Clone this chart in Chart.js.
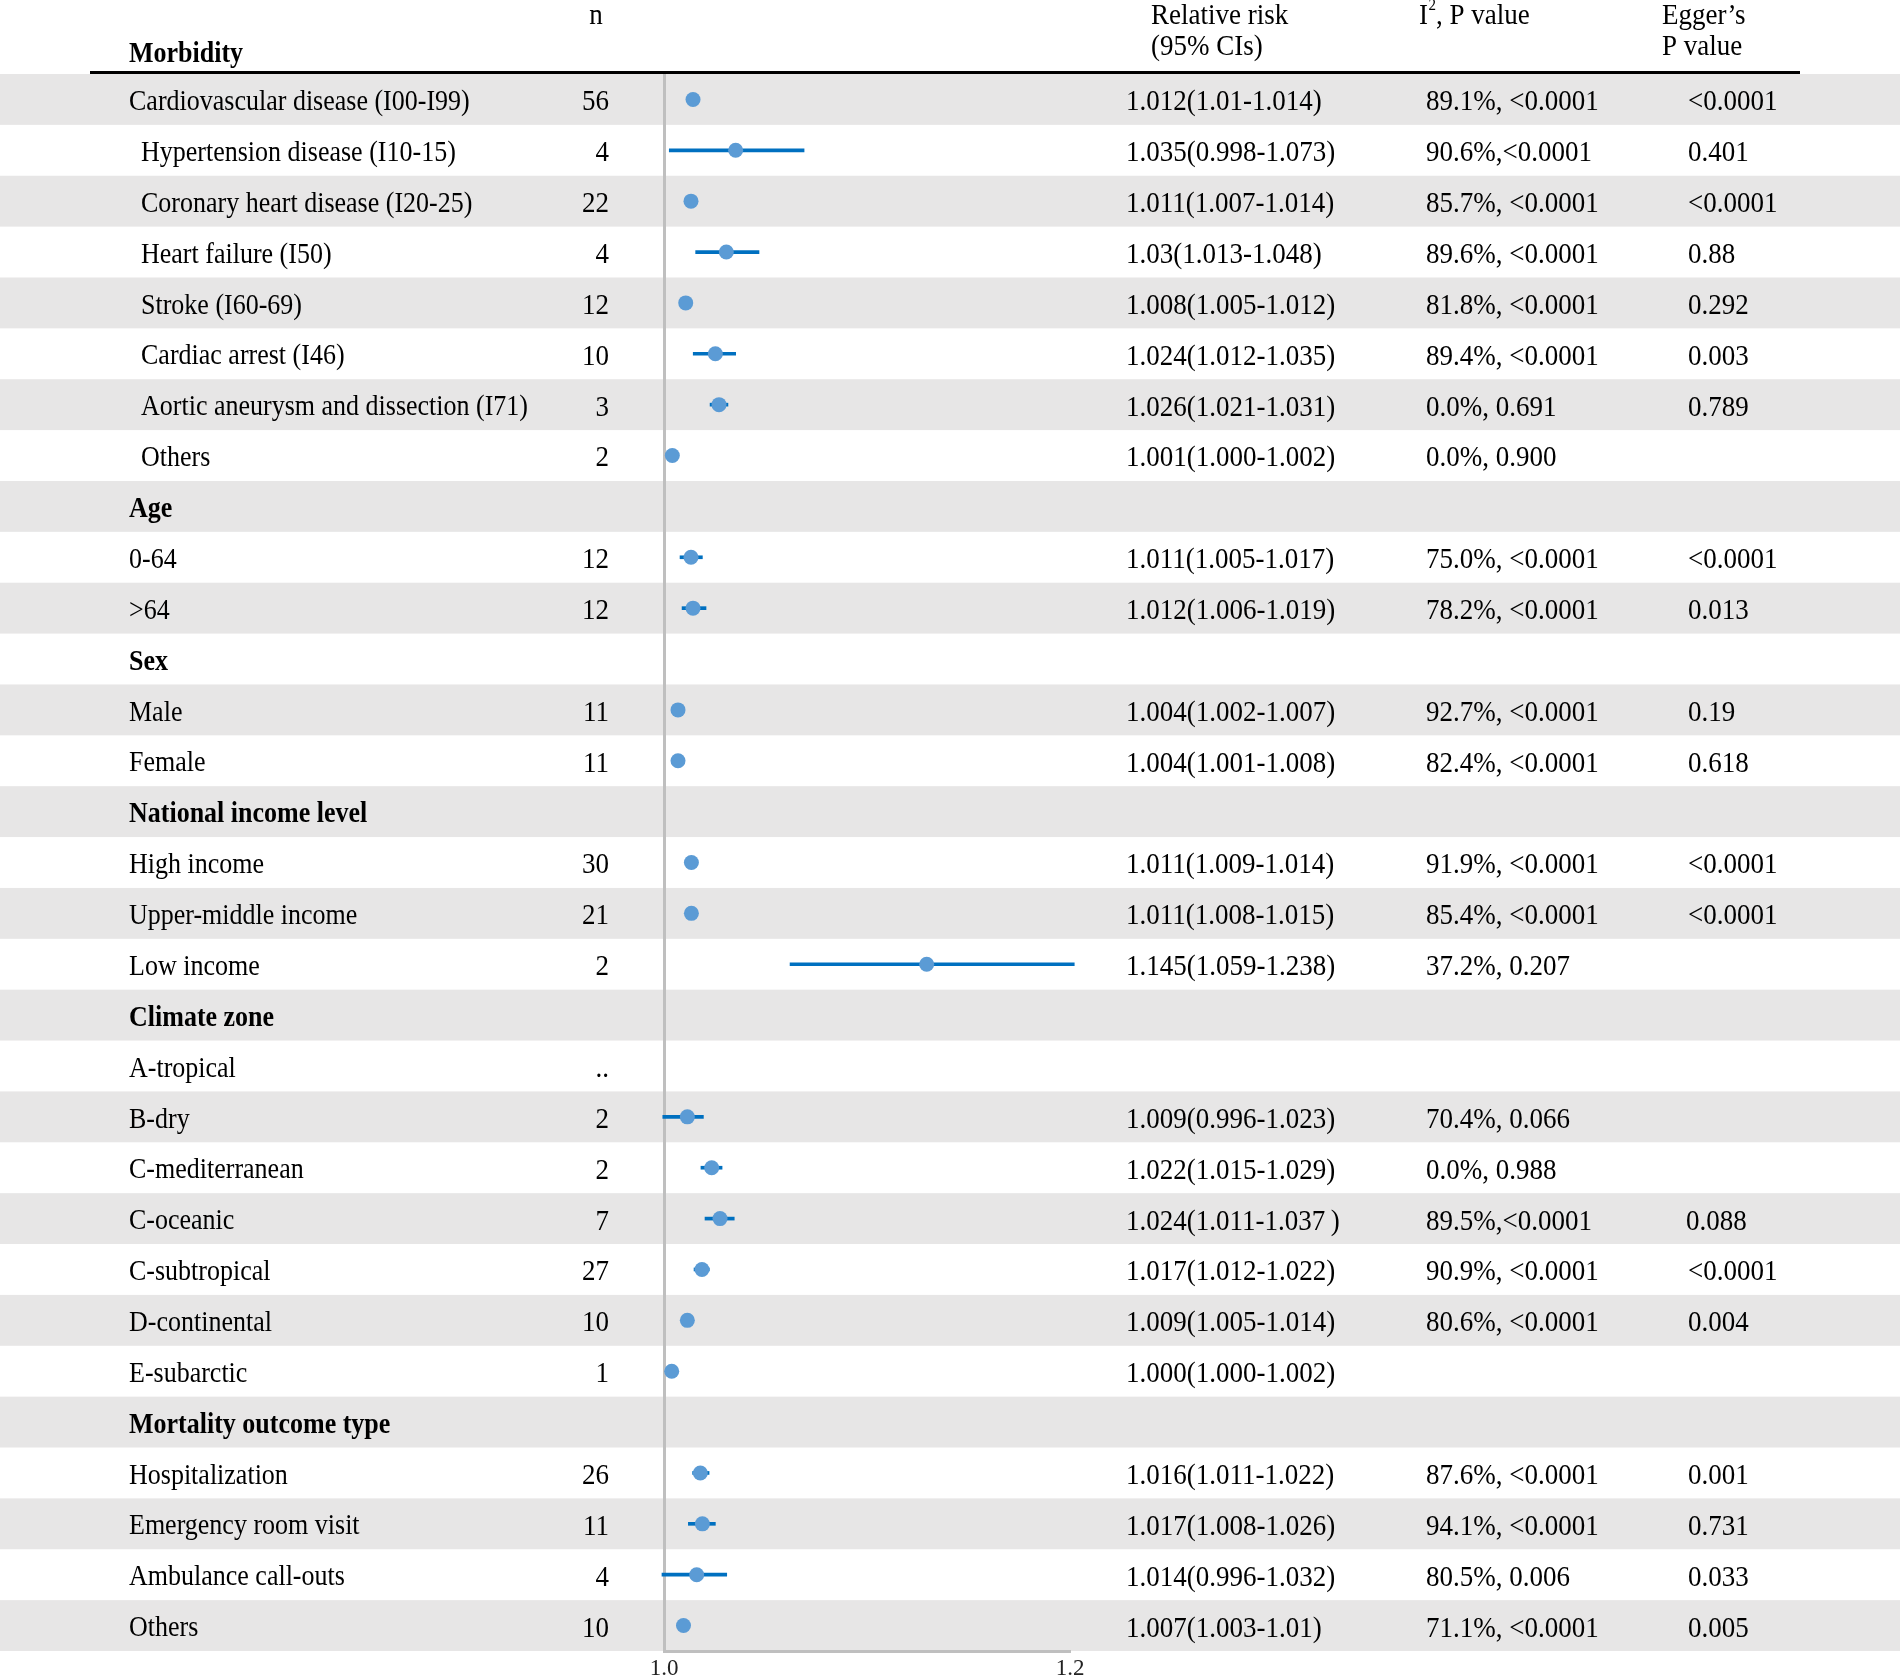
<!DOCTYPE html>
<html><head><meta charset="utf-8">
<script src="https://cdn.jsdelivr.net/npm/chart.js@4.4.0/dist/chart.umd.min.js"></script>
<style>html,body{margin:0;padding:0;background:#fff}#wrap{width:1900px;height:1675px;position:relative}</style>
</head><body><div id="wrap"><canvas id="c" width="1900" height="1675"></canvas></div>
<script>
const labels = ['Cardiovascular disease (I00-I99)','Hypertension disease (I10-15)','Coronary heart disease (I20-25)','Heart failure (I50)','Stroke (I60-69)','Cardiac arrest (I46)','Aortic aneurysm and dissection (I71)','Others','Age','0-64','>64','Sex','Male','Female','National income level','High income','Upper-middle income','Low income','Climate zone','A-tropical','B-dry','C-mediterranean','C-oceanic','C-subtropical','D-continental','E-subarctic','Mortality outcome type','Hospitalization','Emergency room visit','Ambulance call-outs','Others'];
const nStudies = ['56','4','22','4','12','10','3','2','','12','12','','11','11','','30','21','2','','..','2','2','7','27','10','1','','26','11','4','10'];
const rrText = ['1.012(1.01-1.014)','1.035(0.998-1.073)','1.011(1.007-1.014)','1.03(1.013-1.048)','1.008(1.005-1.012)','1.024(1.012-1.035)','1.026(1.021-1.031)','1.001(1.000-1.002)','','1.011(1.005-1.017)','1.012(1.006-1.019)','','1.004(1.002-1.007)','1.004(1.001-1.008)','','1.011(1.009-1.014)','1.011(1.008-1.015)','1.145(1.059-1.238)','','','1.009(0.996-1.023)','1.022(1.015-1.029)','1.024(1.011-1.037\u2009)','1.017(1.012-1.022)','1.009(1.005-1.014)','1.000(1.000-1.002)','','1.016(1.011-1.022)','1.017(1.008-1.026)','1.014(0.996-1.032)','1.007(1.003-1.01)'];
const i2Text = ['89.1%, <0.0001','90.6%,<0.0001','85.7%, <0.0001','89.6%, <0.0001','81.8%, <0.0001','89.4%, <0.0001','0.0%, 0.691','0.0%, 0.900','','75.0%, <0.0001','78.2%, <0.0001','','92.7%, <0.0001','82.4%, <0.0001','','91.9%, <0.0001','85.4%, <0.0001','37.2%, 0.207','','','70.4%, 0.066','0.0%, 0.988','89.5%,<0.0001','90.9%, <0.0001','80.6%, <0.0001','','','87.6%, <0.0001','94.1%, <0.0001','80.5%, 0.006','71.1%, <0.0001'];
const eggerText = ['<0.0001','0.401','<0.0001','0.88','0.292','0.003','0.789','','','<0.0001','0.013','','0.19','0.618','','<0.0001','<0.0001','','','','','','0.088','<0.0001','0.004','','','0.001','0.731','0.033','0.005'];
// point estimates and CI ends as drawn in the picture (null = no mark / whisker hidden by the dot)
const rr = [1.0143,1.0353,1.0133,1.0307,1.0107,1.0253,1.0271,1.0041,null,1.0133,1.0143,null,1.0069,1.0069,null,1.0135,1.0135,1.1294,null,null,1.0115,1.0235,1.0276,1.0187,1.0115,1.0038,null,1.0179,1.0189,1.0161,1.0096];
const ciLow = [null,1.0026,null,1.0156,null,1.0144,1.0227,null,null,1.0079,1.0089,null,null,null,null,null,null,1.0621,null,null,0.9994,1.0182,1.0202,1.0148,null,null,null,1.0141,1.0120,0.9990,null];
const ciHigh = [null,1.0690,null,1.0468,null,1.0353,1.0315,null,null,1.0189,1.0207,null,null,null,null,null,null,1.2021,null,null,1.0194,1.0286,1.0346,1.0223,null,null,null,1.0222,1.0253,1.0309,null];
const headingRows = ['Age','Sex','National income level','Climate zone','Mortality outcome type'];
const subtypeRows = ['Hypertension disease (I10-15)','Coronary heart disease (I20-25)','Heart failure (I50)','Stroke (I60-69)','Cardiac arrest (I46)','Aortic aneurysm and dissection (I71)'];
const xTicks = [1.0, 1.2];

const FONT = '"Liberation Serif", "Times New Roman", serif';
const FS = 27;
const FS_LABEL = 26;
const VSTRETCH = 1.12;

const pointData = [];
rr.forEach((v, i) => { if (v !== null) pointData.push({x: v, y: i}); });
const ciData = [];
ciLow.forEach((lo, i) => { if (lo !== null && ciHigh[i] !== null) ciData.push({x: [lo, ciHigh[i]], y: i}); });

function txt(ctx, s, x, y, align, bold, size) {
  ctx.save();
  ctx.font = (bold ? 'bold ' : '') + (size || FS) + 'px ' + FONT;
  ctx.textAlign = align || 'left';
  ctx.translate(x, y);
  ctx.scale(1, VSTRETCH);
  ctx.fillText(s, 0, 0);
  ctx.restore();
}

const tablePlugin = {
  id: 'table',
  beforeDraw(chart) {
    const {ctx, scales: {y}} = chart;
    ctx.save();
    ctx.fillStyle = '#e7e6e6';
    labels.forEach((_, i) => {
      if (i % 2 === 0) {
        const t = y.getPixelForValue(i - 0.5), b = y.getPixelForValue(i + 0.5);
        ctx.fillRect(0, t, chart.width, b - t);
      }
    });
    ctx.restore();
  },
  afterDraw(chart) {
    const {ctx, scales: {y}} = chart;
    ctx.save();
    ctx.fillStyle = '#000';
    ctx.textBaseline = 'middle';
    // header rule
    ctx.strokeStyle = '#000'; ctx.lineWidth = 3;
    ctx.beginPath(); ctx.moveTo(90, 72.5); ctx.lineTo(1800, 72.5); ctx.stroke();
    // headers
    txt(ctx, 'n', 596, 16, 'center');
    txt(ctx, 'Morbidity', 129, 54, 'left', true, FS_LABEL);
    txt(ctx, 'Relative risk', 1151, 16);
    txt(ctx, '(95% CIs)', 1151, 47);
    txt(ctx, 'I', 1419, 16);
    ctx.font = FS + 'px ' + FONT;
    const iw = ctx.measureText('I').width;
    txt(ctx, '2', 1419 + iw + 0.5, 6, 'left', false, 15);
    txt(ctx, ', P value', 1419 + iw + 8, 16);
    txt(ctx, 'Egger\u2019s', 1662, 16);
    txt(ctx, 'P value', 1662, 47);
    // rows
    labels.forEach((lab, i) => {
      const yc = y.getPixelForValue(i) + 3;
      const heading = headingRows.includes(lab);
      const sub = subtypeRows.includes(lab) || (lab === 'Others' && i < 8);
      txt(ctx, lab, sub ? 141 : 129, yc, 'left', heading, FS_LABEL);
      if (nStudies[i]) txt(ctx, nStudies[i], 609, yc, 'right');
      if (rrText[i]) txt(ctx, rrText[i], 1126, yc);
      if (i2Text[i]) txt(ctx, i2Text[i], 1426, yc);
      if (eggerText[i]) txt(ctx, eggerText[i], lab === 'C-oceanic' ? 1686 : 1688, yc);
    });
    ctx.restore();
  }
};

new Chart(document.getElementById('c'), {
  data: {
    datasets: [
      {type: 'bar', data: ciData, backgroundColor: '#0070c0', borderWidth: 0, barThickness: 3, clip: false, order: 2, indexAxis: 'y'},
      {type: 'scatter', data: pointData, backgroundColor: '#5b9bd5', borderColor: '#5b9bd5', borderWidth: 0, pointRadius: 7.5, clip: false, order: 1}
    ]
  },
  options: {
    indexAxis: 'y',
    responsive: false,
    devicePixelRatio: 1,
    animation: false,
    layout: {padding: {left: 664, right: 830, top: 74, bottom: 0}},
    plugins: {legend: {display: false}, tooltip: {enabled: false}},
    scales: {
      x: {
        type: 'linear', position: 'bottom', min: 1.0, max: 1.2, offset: false,
        afterFit(s) { s.height = 24; },
        afterBuildTicks(s) { s.ticks = xTicks.map(v => ({value: v})); },
        grid: {display: false, drawTicks: false, offset: false},
        border: {display: true, color: '#bfbfbf', width: 3},
        ticks: {padding: 4, color: '#222', font: {family: FONT, size: 23}, callback: v => Number(v).toFixed(1)}
      },
      y: {
        type: 'linear', position: 'left', min: -0.5, max: labels.length - 0.5, reverse: true, offset: false,
        afterFit(s) { s.width = 0; },
        grid: {display: false, drawTicks: false, offset: false},
        border: {display: true, color: '#bfbfbf', width: 3},
        ticks: {display: false}
      }
    }
  },
  plugins: [tablePlugin]
});
</script>
</body></html>
